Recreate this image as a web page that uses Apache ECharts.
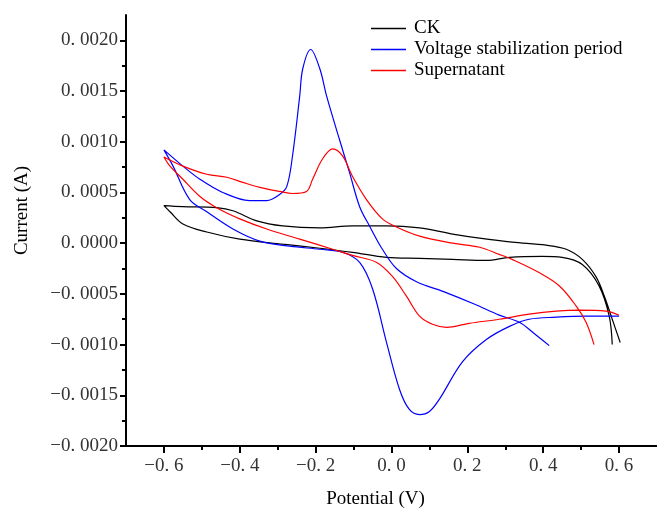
<!DOCTYPE html>
<html>
<head>
<meta charset="utf-8">
<script src="https://cdn.jsdelivr.net/npm/echarts@6/dist/echarts.min.js"></script>
<style>
  html, body { margin: 0; padding: 0; background: #fff; }
  #main { width: 657px; height: 513px; }
</style>
</head>
<body>
<div id="main"></div>
<script>
let myChart = echarts.init(document.getElementById('main'))

// potential (V), current (A), in scan order
let ckData = [
    [0.582, -0.001], [0.574, -0.00072], [0.547, -0.00042], [0.503, -0.00021],
    [0.45, -0.00014], [0.397, -0.00013], [0.311, -0.00014], [0.25, -0.00017],
    [0.161, -0.00016], [0.074, -0.00015], [-0.013, -0.00014], [-0.103, -0.00009],
    [-0.189, -0.00005], [-0.287, -0.00001], [-0.4, 0.00004], [-0.487, 0.00011],
    [-0.55, 0.00019], [-0.584, 0.00031], [-0.6, 0.00037], [-0.55, 0.00036],
    [-0.461, 0.00035], [-0.418, 0.00032], [-0.355, 0.00022], [-0.287, 0.00017],
    [-0.189, 0.00015], [-0.103, 0.00017], [-0.013, 0.00017], [0.074, 0.00015],
    [0.161, 0.00009], [0.232, 0.00005], [0.318, 0.00001], [0.408, -0.00002],
    [0.461, -0.00006], [0.503, -0.00016], [0.539, -0.00033], [0.561, -0.00052],
    [0.582, -0.00075], [0.603, -0.00098]
]
let voltData = [
    [0.6, -0.00072], [0.513, -0.00072], [0.434, -0.00073], [0.363, -0.00075],
    [0.311, -0.00082], [0.25, -0.00095], [0.187, -0.00117], [0.126, -0.00154],
    [0.1, -0.00166], [0.074, -0.00169], [0.047, -0.00164], [0.021, -0.00144],
    [-0.013, -0.00098], [-0.05, -0.00045], [-0.084, -0.00019], [-0.129, -0.00009],
    [-0.189, -0.00006], [-0.268, -0.00003], [-0.347, 0.00002], [-0.418, 0.00014],
    [-0.487, 0.00031], [-0.532, 0.00043], [-0.576, 0.00076], [-0.6, 0.00092],
    [-0.55, 0.00076], [-0.505, 0.00063], [-0.445, 0.0005], [-0.374, 0.00042],
    [-0.329, 0.00042], [-0.295, 0.00048], [-0.276, 0.00056], [-0.261, 0.00086],
    [-0.242, 0.00145], [-0.234, 0.00172], [-0.213, 0.00191], [-0.189, 0.00172],
    [-0.171, 0.00145], [-0.137, 0.00102], [-0.111, 0.0007], [-0.084, 0.00036],
    [-0.058, 0.00017], [-0.024, -0.00006], [0.013, -0.00025], [0.066, -0.00038],
    [0.139, -0.00048], [0.218, -0.0006], [0.284, -0.00071], [0.337, -0.00078],
    [0.376, -0.00089], [0.416, -0.00101]
]
let superData = [
    [0.6, -0.00071], [0.566, -0.00067], [0.495, -0.00066], [0.434, -0.00067],
    [0.363, -0.0007], [0.284, -0.00075], [0.205, -0.00079], [0.145, -0.00083],
    [0.108, -0.0008], [0.074, -0.00072], [0.039, -0.00052], [0.003, -0.00033],
    [-0.039, -0.00019], [-0.103, -0.00012], [-0.155, -0.00006], [-0.242, 0.00004],
    [-0.329, 0.00014], [-0.4, 0.00024], [-0.461, 0.00035], [-0.505, 0.00046],
    [-0.55, 0.00063], [-0.584, 0.00076], [-0.6, 0.00085], [-0.55, 0.00076],
    [-0.487, 0.00068], [-0.434, 0.00065], [-0.392, 0.0006], [-0.347, 0.00055],
    [-0.295, 0.00051], [-0.261, 0.00049], [-0.224, 0.00051], [-0.208, 0.00063],
    [-0.182, 0.00083], [-0.155, 0.00093], [-0.129, 0.00086], [-0.103, 0.00066],
    [-0.066, 0.00043], [-0.024, 0.00024], [0.013, 0.00016], [0.074, 0.00007],
    [0.161, 0], [0.232, -0.00004], [0.284, -0.00011], [0.318, -0.00016],
    [0.389, -0.00029], [0.442, -0.00042], [0.487, -0.00062], [0.513, -0.00078],
    [0.534, -0.001]
]

let seriesNames = ['CK', 'Voltage stabilization period', 'Supernatant']
let seriesColors = ['#000000', '#0000ff', '#ff0000']

let xTicks = [-0.6, -0.4, -0.2, 0, 0.2, 0.4, 0.6]
let xMinor = [-0.5, -0.3, -0.1, 0.1, 0.3, 0.5]
let yTicks = [-0.002, -0.0015, -0.001, -0.0005, 0, 0.0005, 0.001, 0.0015, 0.002]
let yMinor = [-0.00175, -0.00125, -0.00075, -0.00025, 0.00025, 0.00075, 0.00125, 0.00175]

let serif = '"Liberation Serif", "Times New Roman", serif'

function fmt(v, digits) {
    let s = Math.abs(v).toFixed(digits).replace('.', '. ')
    return (v < -1e-12 ? '\u2212' : '') + s
}

// an extra axis on the same grid that only draws tick marks
function tickAxis(base, pos, values, len) {
    return Object.assign({}, base, {
        position: pos,
        axisLine: { show: false, onZero: false },
        axisTick: { show: true, length: len, lineStyle: { color: '#000', width: 2 }, customValues: values },
        axisLabel: { show: false }
    })
}

let xBase = {
    type: 'value', min: -0.7, max: 0.7,
    splitLine: { show: false }
}
let yBase = {
    type: 'value', min: -0.002, max: 0.00225,
    splitLine: { show: false }
}

let option = {
    animation: false,
    backgroundColor: '#fff',
    grid: { left: 126, right: 0, top: 15, bottom: 67, containLabel: false, outerBoundsMode: 'none' },
    legend: {
        orient: 'vertical',
        left: 371,
        top: 18,
        padding: 0,
        icon: 'rect',
        itemWidth: 35,
        itemHeight: 1.5,
        itemGap: 0,
        textStyle: { fontFamily: serif, fontSize: 19, lineHeight: 21, color: '#000', padding: [0, 0, 0, 3] },
        data: seriesNames
    },
    xAxis: [
        Object.assign({}, xBase, {
            position: 'bottom',
            name: 'Potential (V)',
            nameLocation: 'middle',
            nameGap: 44,
            nameTextStyle: { fontFamily: serif, fontSize: 19, color: '#000', padding: [0, 32, 0, 0] },
            axisLine: { onZero: false, lineStyle: { color: '#000', width: 2 } },
            axisTick: { show: false },
            axisLabel: {
                customValues: xTicks, margin: 11,
                fontFamily: serif, fontSize: 19, color: '#333',
                formatter: v => fmt(v, 1)
            }
        }),
        tickAxis(xBase, 'bottom', xTicks, 7),
        tickAxis(xBase, 'bottom', xMinor, 4)
    ],
    yAxis: [
        Object.assign({}, yBase, {
            position: 'left',
            name: 'Current (A)',
            nameLocation: 'middle',
            nameGap: 94,
            nameTextStyle: { fontFamily: serif, fontSize: 19, color: '#000', padding: [0, 0, 0, 40] },
            axisLine: { onZero: false, lineStyle: { color: '#000', width: 2 } },
            axisTick: { show: false },
            axisLabel: {
                customValues: yTicks, margin: 8,
                fontFamily: serif, fontSize: 19, color: '#333',
                formatter: v => fmt(v, 4)
            }
        }),
        tickAxis(yBase, 'left', yTicks, 6),
        tickAxis(yBase, 'left', yMinor, 4)
    ],
    series: [ckData, voltData, superData].map((d, i) => ({
        name: seriesNames[i],
        type: 'line',
        data: d,
        smooth: 0.35,
        symbol: 'none',
        color: seriesColors[i],
        lineStyle: { width: 1.2, color: seriesColors[i] }
    }))
}

myChart.setOption(option)
</script>
</body>
</html>
